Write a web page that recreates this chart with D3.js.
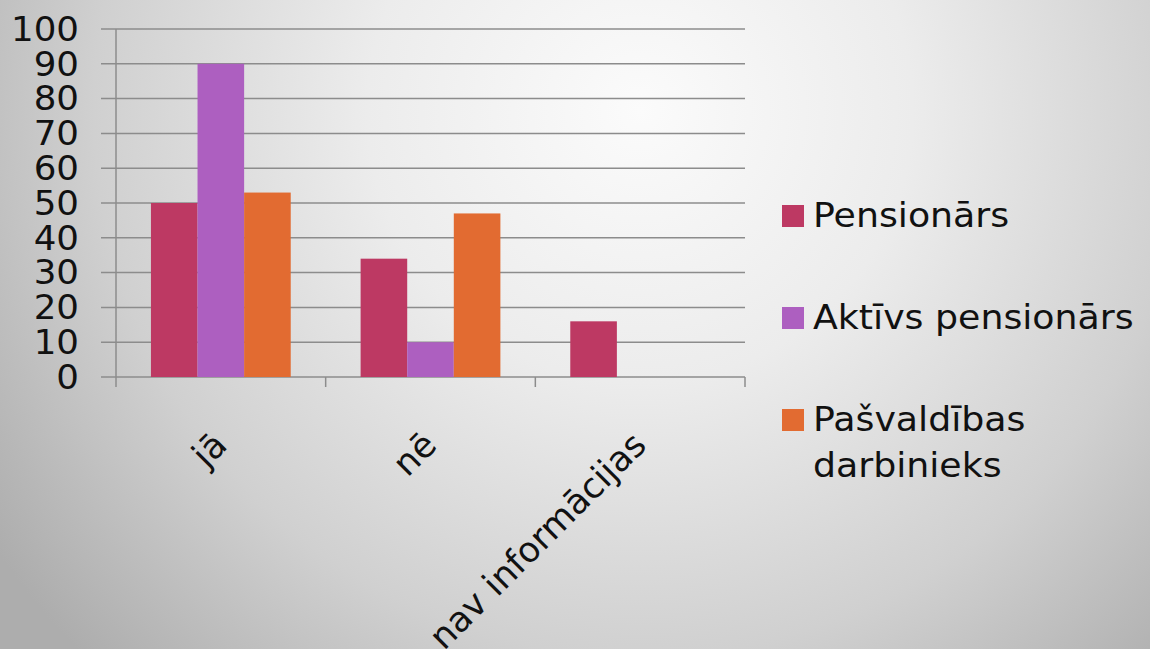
<!DOCTYPE html>
<html>
<head>
<meta charset="utf-8">
<script src="https://cdn.jsdelivr.net/npm/d3@7"></script>
<style>
  body { margin: 0; background: #fff; }
  svg { display: block; font-family: 'DejaVu Sans', Verdana, sans-serif; }
</style>
</head>
<body>
<div id="chart"></div>
<script>
// Chart data
const categories = ['jā', 'nē', 'nav informācijas'];
const series = ['Pensionārs', 'Aktīvs pensionārs', 'Pašvaldības darbinieks'];
const pensionars = [50, 34, 16];
const aktivs = [90, 10, 0];
const pasvaldibas = [53, 47, 0];
const yTicks = [0, 10, 20, 30, 40, 50, 60, 70, 80, 90, 100];
const legendLines = [['Pensionārs'], ['Aktīvs pensionārs'], ['Pašvaldības', 'darbinieks']];

const values = [pensionars, aktivs, pasvaldibas];
const colors = ['#bd3963', '#ad5fc0', '#e26b31'];

const W = 1150, H = 657;
const svg = d3.select('#chart').append('svg').attr('width', W).attr('height', H);

// Background gradient
const defs = svg.append('defs');
const grad = defs.append('radialGradient')
  .attr('id', 'bg')
  .attr('gradientUnits', 'userSpaceOnUse')
  .attr('cx', 640).attr('cy', 110).attr('r', 780);
grad.append('stop').attr('offset', '0').attr('stop-color', '#fbfbfb');
grad.append('stop').attr('offset', '0.35').attr('stop-color', '#ececec');
grad.append('stop').attr('offset', '0.7').attr('stop-color', '#d0d0d0');
grad.append('stop').attr('offset', '1').attr('stop-color', '#adadad');
svg.append('rect').attr('width', W).attr('height', 649).attr('fill', 'url(#bg)');

// Scales
const x0 = d3.scaleBand().domain(categories).range([116, 745]);
const x1 = d3.scaleBand().domain(series).range([0, x0.bandwidth()]).paddingOuter(0.75);
const y = d3.scaleLinear().domain([0, 100]).range([377, 29]);

// Gridlines
svg.append('g')
  .selectAll('line')
  .data(yTicks)
  .enter()
  .append('line')
  .attr('x1', 101)
  .attr('x2', 745)
  .attr('y1', (d) => y(d))
  .attr('y2', (d) => y(d))
  .attr('stroke', '#8c8c8c')
  .attr('stroke-width', 1.5);

// Y axis line
svg.append('line')
  .attr('x1', 116).attr('x2', 116)
  .attr('y1', y(100)).attr('y2', y(0) + 10)
  .attr('stroke', '#8c8c8c').attr('stroke-width', 1.5);

// X tick marks at category boundaries
const bounds = categories.map((c) => x0(c)).concat([x0(categories[categories.length - 1]) + x0.bandwidth()]);
svg.append('g')
  .selectAll('line')
  .data(bounds.slice(1))
  .enter()
  .append('line')
  .attr('x1', (d) => d)
  .attr('x2', (d) => d)
  .attr('y1', y(0))
  .attr('y2', y(0) + 10)
  .attr('stroke', '#8c8c8c')
  .attr('stroke-width', 1.5);

// Y labels
svg.append('g')
  .selectAll('text')
  .data(yTicks)
  .enter()
  .append('text')
  .attr('transform', (d) => `translate(79,${y(d)}) scale(1.08,1)`)
  .attr('dy', '0.36em')
  .attr('text-anchor', 'end')
  .style('font-size', '33px')
  .attr('fill', '#111')
  .text((d) => d);

// Bars
series.forEach((s, si) => {
  svg.append('g')
    .selectAll('rect')
    .data(values[si])
    .enter()
    .append('rect')
    .attr('x', (d, i) => x0(categories[i]) + x1(s))
    .attr('y', (d) => y(d))
    .attr('width', x1.bandwidth())
    .attr('height', (d) => y(0) - y(d))
    .attr('fill', colors[si]);
});

// X labels
svg.append('g')
  .selectAll('text')
  .data(categories)
  .enter()
  .append('text')
  .attr('transform', (d) => `translate(${x0(d) + x0.bandwidth() / 2 + 8},447) rotate(-45)`)
  .attr('text-anchor', 'end')
  .style('font-size', '35px')
  .attr('fill', '#111')
  .text((d) => d);

// Legend
const legend = svg.append('g');
legendLines.forEach((lines, i) => {
  const base = 227 + i * 102;
  legend.append('rect')
    .attr('x', 782)
    .attr('y', base - 22)
    .attr('width', 22)
    .attr('height', 22)
    .attr('fill', colors[i]);
  lines.forEach((t, j) => {
    legend.append('text')
      .attr('transform', `translate(813,${base + j * 46}) scale(1.1,1)`)
      .style('font-size', '33px')
      .attr('fill', '#111')
      .text(t);
  });
});
</script>
</body>
</html>
